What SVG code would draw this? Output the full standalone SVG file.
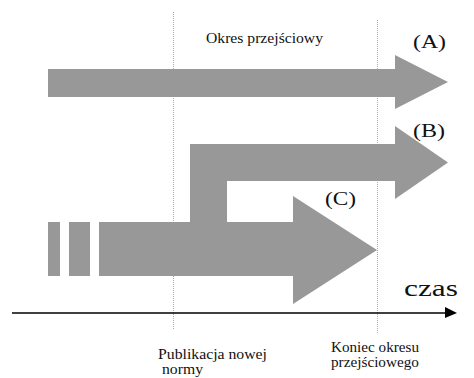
<svg xmlns="http://www.w3.org/2000/svg" width="474" height="378" viewBox="0 0 474 378">
<style>
.arr{fill:#989898;stroke:none}
.dot{stroke:#aaa;stroke-width:1;stroke-dasharray:1,1;fill:none}
.t{font-family:"Liberation Serif",serif;fill:#111}
</style>
<rect width="474" height="378" fill="#fff"/>
<g id="guides">
<line class="dot" x1="173.5" y1="12" x2="173.5" y2="330"/>
<line class="dot" x1="377.5" y1="20" x2="377.5" y2="333"/>
</g>
<g id="arrowA">
<polygon class="arr" points="48,69 395,69 395,55 448,82 395,109 395,97 48,97"/>
<text class="t" x="413" y="48" font-size="19" textLength="33" lengthAdjust="spacingAndGlyphs">(A)</text>
</g>
<g id="arrowB">
<polygon class="arr" points="190,224 190,144 395,144 395,126 448,162.5 395,199 395,181 227,181 227,224"/>
<text class="t" x="413" y="137" font-size="19" textLength="32" lengthAdjust="spacingAndGlyphs">(B)</text>
</g>
<g id="arrowC">
<rect class="arr" x="48" y="222" width="12" height="54"/>
<rect class="arr" x="69" y="222" width="21" height="54"/>
<polygon class="arr" points="99,222 293,222 293,196 377,250 293,304 293,276 99,276"/>
<text class="t" x="325" y="205" font-size="19" textLength="31" lengthAdjust="spacingAndGlyphs">(C)</text>
</g>
<g id="connectors">
<line x1="12" y1="313" x2="447" y2="313" stroke="#000" stroke-width="1.6"/>
<polygon points="445,307 457,313 445,318" fill="#000"/>
</g>
<g id="labels">
<text class="t" x="206" y="43" font-size="15" textLength="117" lengthAdjust="spacingAndGlyphs">Okres przejściowy</text>
<text class="t" x="404" y="296" font-size="24" textLength="54" lengthAdjust="spacingAndGlyphs">czas</text>
<text class="t" x="158" y="359" font-size="15" textLength="109" lengthAdjust="spacingAndGlyphs">Publikacja nowej</text>
<text class="t" x="162" y="374" font-size="15" textLength="41" lengthAdjust="spacingAndGlyphs">normy</text>
<text class="t" x="331" y="352" font-size="15" textLength="88" lengthAdjust="spacingAndGlyphs">Koniec okresu</text>
<text class="t" x="331" y="367" font-size="15" textLength="88" lengthAdjust="spacingAndGlyphs">przejściowego</text>
</g>
</svg>
